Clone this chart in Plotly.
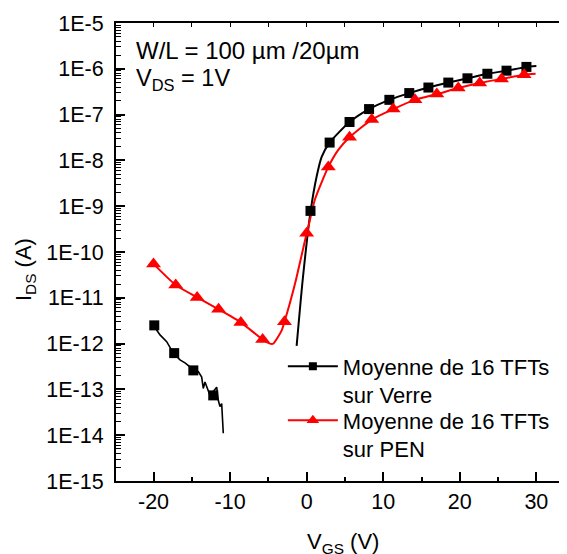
import plotly.graph_objects as go

# ---------------- data ----------------
# Verre (glass) : average of 16 TFTs
verre_off_x = [-19.93, -19.15, -18.28, -17.42, -16.54, -15.89, -15.01, -14.15, -13.71, -13.50,
               -13.28, -12.62, -11.75, -11.54, -11.32, -11.10, -10.89]
verre_off_y = [2.4e-12, 1.55e-12, 1.1e-12, 6.2e-13, 4.4e-13, 3.8e-13, 2.9e-13, 2.45e-13, 1.86e-13, 1.05e-13,
               1.45e-13, 7.4e-14, 1.12e-13, 5.8e-14, 4.2e-14, 4.9e-14, 1.1e-14]
verre_on_x = [-1.31, -0.52, 0.52, 1.31, 1.96, 3.0, 5.6, 8.15, 10.8, 13.4, 15.9, 18.5, 21.0, 23.6, 26.1, 28.7, 30.0]
verre_on_y = [8.9e-13, 2.45e-11, 7.9e-10, 4.5e-9, 1.2e-8, 2.45e-8, 6.9e-8, 1.32e-7, 2.1e-7, 2.95e-7,
              3.9e-7, 5.0e-7, 6.2e-7, 7.8e-7, 9.1e-7, 1.1e-6, 1.15e-6]
verre_marker_x = [-19.9, -17.3, -14.8, -12.2, 0.5, 3.0, 5.6, 8.15, 10.8, 13.4, 15.9, 18.5, 21.0, 23.6, 26.1, 28.7]
verre_marker_y = [2.5e-12, 6.2e-13, 2.6e-13, 7.4e-14, 7.9e-10, 2.45e-8, 6.9e-8, 1.32e-7, 2.1e-7, 2.95e-7,
                  3.9e-7, 5.0e-7, 6.2e-7, 7.8e-7, 9.1e-7, 1.1e-6]

# PEN : average of 16 TFTs
pen_curve_x = [-20.0, -17.1, -14.3, -11.5, -8.6, -5.75, -4.8, -4.36, -3.26, -2.9, -2.18, -1.4, 0.0, 0.21,
               1.08, 2.83, 4.13, 5.6, 8.5, 11.3, 14.15, 17.0, 19.8, 22.6, 25.45, 28.4, 29.9]
pen_curve_y = [5.5e-11, 1.9e-11, 1.02e-11, 5.6e-12, 2.9e-12, 1.23e-12, 1.0e-12, 1.0e-12, 1.95e-12, 3.0e-12,
               7.8e-12, 2.45e-11, 2.57e-10, 3.5e-10, 1.4e-9, 7.2e-9, 1.7e-8, 3.2e-8, 7.8e-8, 1.32e-7,
               2.1e-7, 2.8e-7, 3.8e-7, 4.9e-7, 6.0e-7, 7.4e-7, 7.8e-7]
pen_marker_x = [-20.0, -17.1, -14.3, -11.5, -8.6, -5.75, -2.9, 0.0, 2.83, 5.6, 8.5, 11.3, 14.15, 17.0,
                19.8, 22.6, 25.45, 28.4]
pen_marker_y = [5.5e-11, 1.9e-11, 1.02e-11, 5.6e-12, 2.9e-12, 1.23e-12, 3.0e-12, 2.57e-10, 7.2e-9, 3.2e-8,
                7.8e-8, 1.32e-7, 2.1e-7, 2.8e-7, 3.8e-7, 4.9e-7, 6.0e-7, 7.4e-7]

series_names = ["Moyenne de 16 TFTs<br>sur Verre", "Moyenne de 16 TFTs<br>sur PEN"]

x_tick_vals = [-20, -10, 0, 10, 20, 30]
x_tick_text = ["-20", "-10", "0", "10", "20", "30"]
y_tick_vals = [1e-15, 1e-14, 1e-13, 1e-12, 1e-11, 1e-10, 1e-9, 1e-8, 1e-7, 1e-6, 1e-5]
y_tick_text = ["1E-15", "1E-14", "1E-13", "1E-12", "1E-11", "1E-10", "1E-9", "1E-8", "1E-7", "1E-6", "1E-5"]

FONT = "Arial, 'Liberation Sans', sans-serif"
BLACK = "#000000"
RED = "#ff0000"

fig = go.Figure()

# curves
fig.add_trace(go.Scatter(x=verre_off_x, y=verre_off_y, mode="lines",
                         line=dict(color=BLACK, width=1.6), showlegend=False, hoverinfo="skip"))
fig.add_trace(go.Scatter(x=verre_on_x, y=verre_on_y, mode="lines",
                         line=dict(color=BLACK, width=2, shape="spline", smoothing=0.6),
                         showlegend=False, hoverinfo="skip"))
fig.add_trace(go.Scatter(x=pen_curve_x, y=pen_curve_y, mode="lines",
                         line=dict(color=RED, width=2, shape="spline", smoothing=0.6),
                         showlegend=False, hoverinfo="skip"))
# markers
fig.add_trace(go.Scatter(x=verre_marker_x, y=verre_marker_y, mode="markers",
                         marker=dict(symbol="square", size=10, color=BLACK), showlegend=False))
fig.add_trace(go.Scatter(x=pen_marker_x, y=pen_marker_y, mode="markers",
                         marker=dict(symbol="triangle-up", size=13, color=RED), showlegend=False))
# legend entries (one legend box per series, to control spacing)
fig.add_trace(go.Scatter(x=[None], y=[None], mode="lines+markers", name=series_names[0],
                         line=dict(color=BLACK, width=2), legend="legend",
                         marker=dict(symbol="square", size=8, color=BLACK)))
fig.add_trace(go.Scatter(x=[None], y=[None], mode="lines+markers", name=series_names[1],
                         line=dict(color=RED, width=2), legend="legend2",
                         marker=dict(symbol="triangle-up", size=11, color=RED)))

# top mirror axis (ticks only)
fig.add_trace(go.Scatter(x=[None], y=[None], xaxis="x2", showlegend=False))

legend_style = dict(xanchor="left", yanchor="top", bgcolor="rgba(0,0,0,0)", borderwidth=0,
                    font=dict(family=FONT, size=22, color=BLACK),
                    valign="top", tracegroupgap=0, itemwidth=50)

# the page body adds an 8 px offset: figure is 559x546 placed at (8, 8)
fig.update_layout(
    width=559, height=546,
    margin=dict(l=108, r=0, t=15, b=73),
    paper_bgcolor="white", plot_bgcolor="white",
    font=dict(family=FONT, size=21, color=BLACK),
    showlegend=True,
    legend=dict(x=0.37, y=0.296, **legend_style),
    legend2=dict(x=0.37, y=0.178, **legend_style),
    xaxis=dict(range=[-24.9, 34.0], showgrid=False, zeroline=False, automargin=False,
               showline=True, linecolor=BLACK, linewidth=2,
               tickmode="array", tickvals=x_tick_vals, ticktext=x_tick_text,
               ticks="inside", ticklen=9, tickwidth=1.5, tickcolor=BLACK,
               ticklabelstandoff=0,
               minor=dict(ticks="inside", ticklen=4, tickwidth=1.5, tickcolor=BLACK, dtick=5, tick0=0,
                          showgrid=False),
               tickfont=dict(family=FONT, size=21.5, color=BLACK)),
    xaxis2=dict(range=[-24.9, 34.0], overlaying="x", side="top", showgrid=False, zeroline=False,
                automargin=False,
                showline=True, linecolor=BLACK, linewidth=1.5,
                tickmode="linear", dtick=5, tick0=0, ticks="inside", ticklen=4, tickwidth=1.2,
                tickcolor=BLACK, showticklabels=False),
    yaxis=dict(type="log", range=[-15, -5], showgrid=False, zeroline=False, automargin=False,
               showline=True, linecolor=BLACK, linewidth=2,
               tickmode="array", tickvals=y_tick_vals, ticktext=y_tick_text,
               ticks="inside", ticklen=9, tickwidth=1.5, tickcolor=BLACK,
               ticklabelstandoff=6,
               minor=dict(ticks="inside", ticklen=5, tickwidth=1.2, tickcolor=BLACK, dtick="D1",
                          showgrid=False),
               tickfont=dict(family=FONT, size=21.5, color=BLACK)),
    annotations=[
        dict(text="W/L = 100 µm /20µm", xref="paper", yref="paper", x=(134 - 116) / 451,
             y=(480.7 - 35) / 457.4, xanchor="left", yanchor="top", showarrow=False,
             font=dict(family=FONT, size=24, color=BLACK)),
        dict(text="V<sub>DS</sub> = 1V", xref="paper", yref="paper", x=(134 - 116) / 451,
             y=(480.7 - 63) / 457.4, xanchor="left", yanchor="top", showarrow=False,
             font=dict(family=FONT, size=23.5, color=BLACK)),
        dict(text="I<sub>DS</sub> (A)", xref="paper", yref="paper", x=(25 - 116) / 451,
             y=(480.7 - 270) / 457.4, xanchor="center", yanchor="middle", textangle=-90,
             showarrow=False, font=dict(family=FONT, size=22, color=BLACK)),
        dict(text="V<sub>GS</sub> (V)", xref="paper", yref="paper", x=(343 - 116) / 451,
             y=(480.7 - 543) / 457.4, xanchor="center", yanchor="middle",
             showarrow=False, font=dict(family=FONT, size=22, color=BLACK)),
    ],
)

fig.write_html("out.html")
